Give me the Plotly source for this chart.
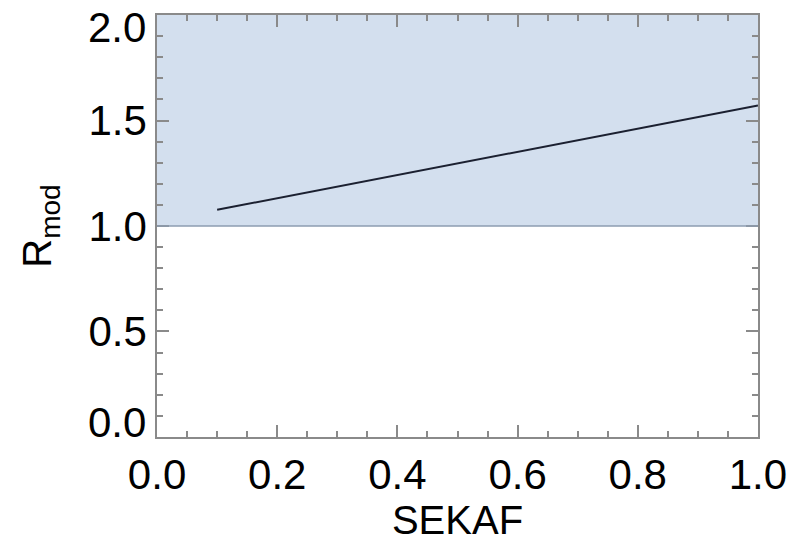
import plotly.graph_objects as go

sekaf = [0.1, 0.2, 0.3, 0.4, 0.5, 0.6, 0.7, 0.8, 0.9, 1.0]
r_mod = [1.077, 1.132, 1.187, 1.242, 1.297, 1.352, 1.406, 1.461, 1.516, 1.571]
band = [1.0, 2.0]
x_ticks = [0.0, 0.2, 0.4, 0.6, 0.8, 1.0]
y_ticks = [0.0, 0.5, 1.0, 1.5, 2.0]

FONT = "Liberation Sans, Arial, sans-serif"

fig = go.Figure()
fig.add_hrect(y0=band[0], y1=band[1], fillcolor="#d3dfee", line_width=0, layer="below")
fig.add_hline(y=band[0], line=dict(color="#8d9cb0", width=1.5))
fig.add_trace(go.Scatter(x=sekaf, y=r_mod, mode="lines",
                         line=dict(color="#1b2030", width=2), showlegend=False))

axis_common = dict(
    showgrid=False, zeroline=False, showline=True, linecolor="#8a8a8a", linewidth=1.5,
    mirror="ticks", ticks="inside", ticklen=12, tickwidth=1.5, tickcolor="#8a8a8a",
    tickfont=dict(family=FONT, size=42, color="black"), ticklabeloverflow="allow",
)
fig.update_xaxes(range=[-0.0001, 1.0001], tickvals=x_ticks, ticktext=[f"{v:.1f}" for v in x_ticks],
                 minor=dict(dtick=0.05, ticks="inside", ticklen=6, tickwidth=1.5, tickcolor="#8a8a8a"),
                 title=dict(text="SEKAF", font=dict(family=FONT, size=40, color="black"),
                            standoff=5),
                 **axis_common)

# end labels of the y axis are nudged inward (as in the reference), drawn as annotations
inner = y_ticks[1:-1]
fig.update_yaxes(range=[-0.0002, 2.0002], tickvals=inner, ticktext=[f"{v:.1f}" for v in inner],
                 minor=dict(dtick=0.1, ticks="inside", ticklen=6, tickwidth=1.5, tickcolor="#8a8a8a"),
                 title=dict(text="R<sub>mod</sub>", font=dict(family=FONT, size=40, color="black"),
                            standoff=24),
                 **axis_common)
for v, shift in ((y_ticks[0], 14), (y_ticks[-1], -12)):
    fig.add_annotation(x=0, xref="paper", y=v, yref="y", text=f"{v:.1f}", showarrow=False,
                       xanchor="right", yanchor="middle", xshift=-9, yshift=shift,
                       font=dict(family=FONT, size=42, color="black"))

fig.update_layout(
    width=800, height=543, margin=dict(l=157, r=42, t=15, b=104),
    plot_bgcolor="white", paper_bgcolor="white",
)
fig.write_html("out.html")
